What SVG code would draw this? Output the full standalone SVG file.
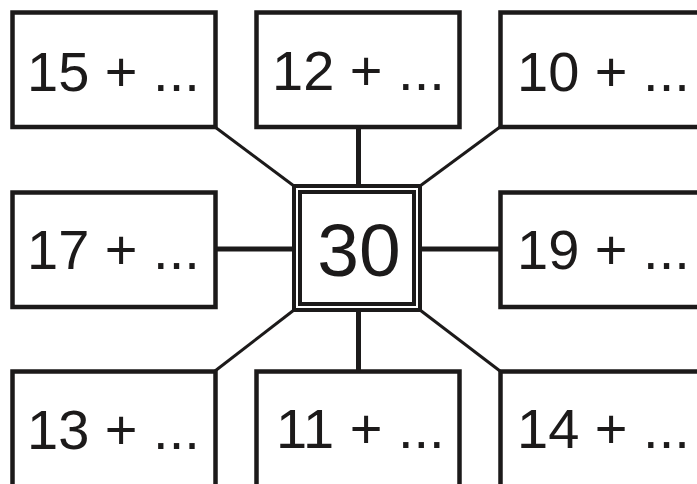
<svg xmlns="http://www.w3.org/2000/svg" width="697" height="484" viewBox="0 0 697 484">
<style>
.box{fill:#fff;stroke:#1c1a1a;stroke-width:4.5}
.lbl{font-family:"Liberation Sans",Arial,sans-serif;font-size:56px;fill:#1c1a1a}
.ctr{font-family:"Liberation Sans",Arial,sans-serif;font-size:75px;fill:#1c1a1a;text-anchor:middle}
.thick{stroke:#1c1a1a;stroke-width:5;fill:none}
.thin{stroke:#1c1a1a;stroke-width:3;fill:none}
</style>
<rect width="697" height="484" fill="#fff"/>
<g id="connectors">
<line class="thick" x1="358.5" y1="127" x2="358.5" y2="186"/>
<line class="thick" x1="358.5" y1="310" x2="358.5" y2="371"/>
<line class="thick" x1="215" y1="249" x2="294" y2="249"/>
<line class="thick" x1="420" y1="249" x2="500" y2="249"/>
<line class="thin" x1="215" y1="127" x2="294" y2="186"/>
<line class="thin" x1="500" y1="127" x2="420" y2="186"/>
<line class="thin" x1="294" y1="310" x2="215" y2="371"/>
<line class="thin" x1="420" y1="310" x2="500" y2="371"/>
</g>
<g id="center">
<rect x="294" y="186" width="126" height="124" fill="#fff" stroke="#1c1a1a" stroke-width="4"/>
<rect x="300" y="192" width="114" height="112" fill="#fff" stroke="#1c1a1a" stroke-width="4"/>
<text class="ctr" x="359" y="276">30</text>
</g>
<g id="n15"><rect class="box" x="12.5" y="12.5" width="203" height="114.5"/><text class="lbl" x="27" y="91">15 + ...</text></g>
<g id="n12"><rect class="box" x="256.5" y="12.5" width="203" height="114.5"/><text class="lbl" x="272" y="90">12 + ...</text></g>
<g id="n10"><rect class="box" x="500.5" y="12.5" width="220" height="114.5"/><text class="lbl" x="517" y="91">10 + ...</text></g>
<g id="n17"><rect class="box" x="12.5" y="192.5" width="203" height="114.5"/><text class="lbl" x="27" y="269">17 + ...</text></g>
<g id="n19"><rect class="box" x="500.5" y="192.5" width="220" height="114.5"/><text class="lbl" x="517" y="269">19 + ...</text></g>
<g id="n13"><rect class="box" x="12.5" y="371.5" width="203" height="130"/><text class="lbl" x="27" y="449">13 + ...</text></g>
<g id="n11"><rect class="box" x="256.5" y="371.5" width="203" height="130"/><text class="lbl" x="276" y="448">11 + ...</text></g>
<g id="n14"><rect class="box" x="500.5" y="371.5" width="220" height="130"/><text class="lbl" x="517" y="448">14 + ...</text></g>
</svg>
